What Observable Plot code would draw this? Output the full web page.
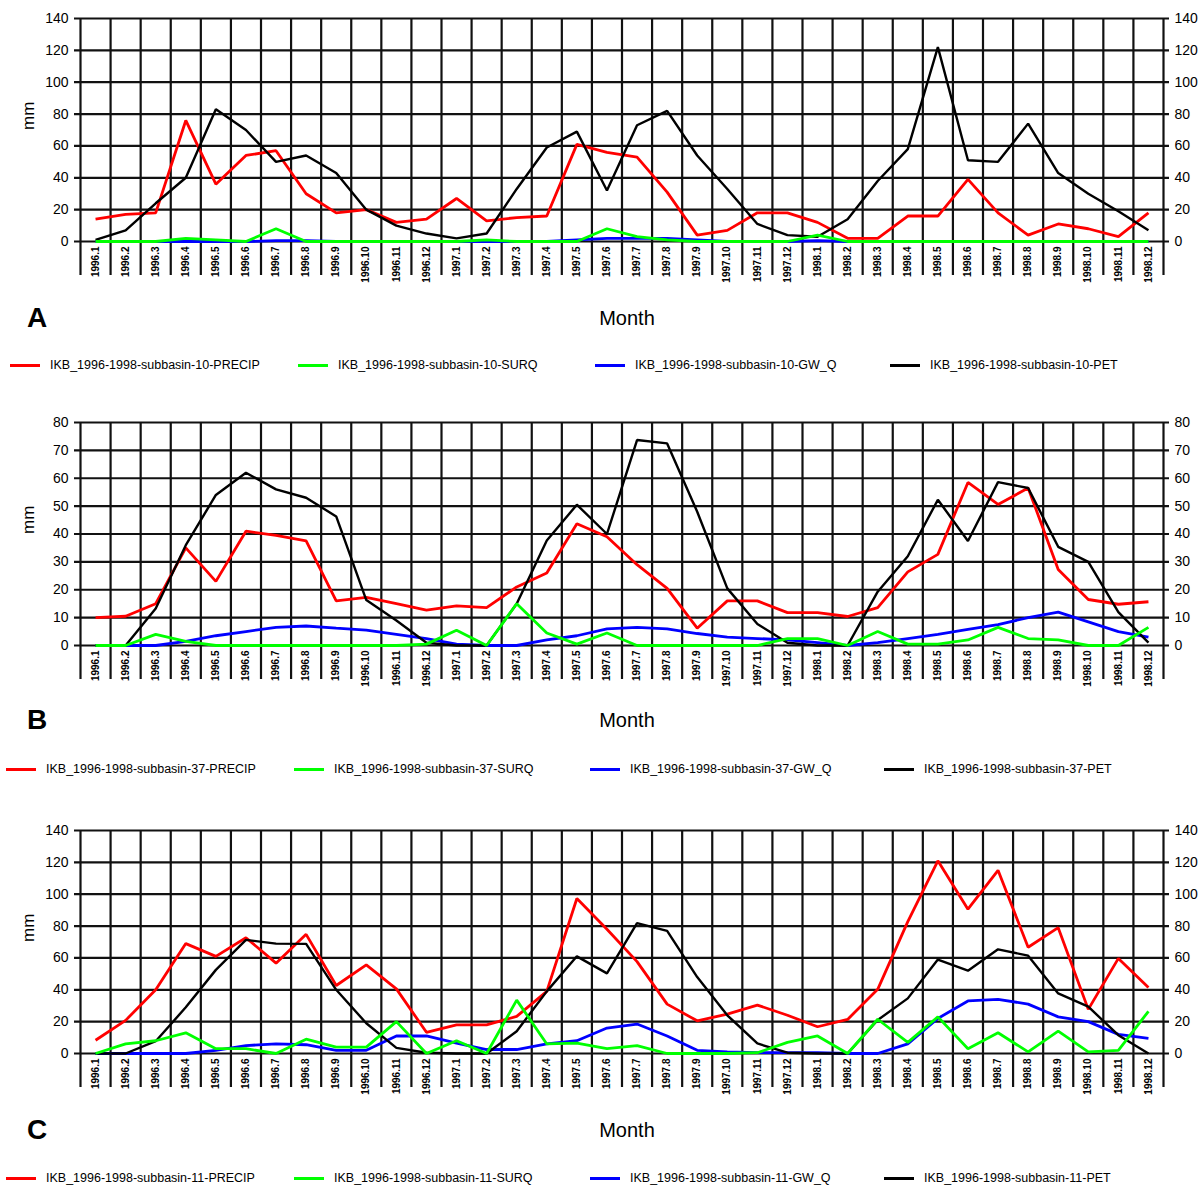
<!DOCTYPE html>
<html>
<head>
<meta charset="utf-8">
<script src="https://cdn.jsdelivr.net/npm/d3@7"></script>
<script src="https://cdn.jsdelivr.net/npm/@observablehq/plot@0.6"></script>
<style>
  body { margin: 0; background: #fff; font-family: "Liberation Sans", Arial, sans-serif; }
  #page { position: relative; width: 1203px; height: 1188px; overflow: hidden; background: #fff; }
  .panel { position: absolute; left: 0; }
  .letter { position: absolute; font-weight: bold; font-size: 28px; line-height: 28px; }
  .month { position: absolute; font-size: 20px; line-height: 20px; transform: translateX(-50%); }
  .item { position: absolute; font-size: 12.5px; line-height: 14px; white-space: nowrap; display: flex; align-items: center; color: #000; }
  .swatch { display: inline-block; width: 30px; height: 3px; margin-right: 10px; }
</style>
</head>
<body>
<div id="page"></div>
<script>
// Month categories (x axis)
const months = [
  "1996.1","1996.2","1996.3","1996.4","1996.5","1996.6","1996.7","1996.8","1996.9","1996.10","1996.11","1996.12",
  "1997.1","1997.2","1997.3","1997.4","1997.5","1997.6","1997.7","1997.8","1997.9","1997.10","1997.11","1997.12",
  "1998.1","1998.2","1998.3","1998.4","1998.5","1998.6","1998.7","1998.8","1998.9","1998.10","1998.11","1998.12"
];

// Subbasin 10 (mm)
const precip10 = [14,17,18,76,36,54,57,30,18,20,12,14, 27,13,15,16,61,56,53,31,4,7,18,18, 12,2,2,16,16,39,18,4,11,8,3,18];
const surq10   = [0,0,0,2,1,0,8,0,0,0,0,0, 0,1,0,0,0,8,3,1,0,0,0,0, 4,0,0,0,0,0,0,0,0,0,0,0];
const gwq10    = [0,0,0,0,0,0,0.5,0.5,0,0,0,0, 0,0,0,0,1,2,2,2,1,0,0,0, 0.5,0,0,0,0,0,0,0,0,0,0,0];
const pet10    = [1,7,24,40,83,70,50,54,43,20,10,5, 2,5,33,59,69,32,73,82,54,33,11,4, 3,14,38,58,122,51,50,74,43,30,19,7];

// Subbasin 37 (mm)
const precip37 = [10,10.5,15,35,23,41,39.5,37.5,16,17.3,15,12.7, 14.2,13.6,21,26,43.7,39,29,20.5,6.2,16,16,11.8, 11.8,10.4,13.6,26.4,32.7,58.5,50.6,56.5,27.3,16.5,14.8,15.7];
const surq37   = [0,0,4,1.5,0,0,0,0,0,0,0,0.5, 5.5,0,15,4.5,0.5,4.5,0,0,0,0,0,2.5, 2.5,0,5,0.5,0.5,2,6.5,2.5,2,0,0,6.5];
const gwq37    = [0,0,0,1.5,3.5,5,6.5,7,6.2,5.5,4,2.5, 0.5,0,0,2,3.5,6,6.5,6,4.3,3,2.5,2, 1,0,1,2.5,4,5.8,7.5,10,12,8.5,5,3];
const pet37    = [0,0,13.3,36,54,62,56,53,46.3,16.3,9,1, 0,0,15,37.7,50.5,40,73.7,72.5,48,20.5,7.7,1, 0,0,19.3,32,52.3,37.5,58.6,56.5,35.4,30,12,1];

// Subbasin 11 (mm)
const precip11 = [8.3,20.8,40,69,61,72.7,56.7,74.8,42.7,55.6,40.6,13.3, 18,18,23.3,39,97.3,78,57.7,31,20.5,24.7,30.4,24, 16.8,21.4,40.3,82.8,121,90.6,115,66.7,79,27.7,59.7,41.5];
const surq11   = [0,6,8,13,3,3,0,9,4,4,20,0, 8,0,33.5,6,6.5,3,5,0,0,0,0.5,7, 11,0,21.5,7,23,3,13,1,14,1,2,26.5];
const gwq11    = [0,0,0,0,2,5,6,5.5,2,2,11,11, 6.5,2.5,2.5,6,8,16,18.5,11,2,1,0.5,0.5, 0.5,0,0,6,22,33,34,31,23,20,12,9.5];
const pet11    = [0,0,7.7,29,52.5,71.3,69,68.8,40,19,3.5,0.5, 0,0,14,39,61,50.3,81.8,77,48,24,6.3,0.5, 0,0,21,34.6,59,52,65.4,61.4,37.7,29.4,11.5,0];

// y-axis tick values per panel
const ticks140 = [0,20,40,60,80,100,120,140];
const ticks80  = [0,10,20,30,40,50,60,70,80];

const seriesColors = { PRECIP: "#ff0000", SURQ: "#00ff00", GW_Q: "#0000ff", PET: "#000000" };

const panels = [
  { letter: "A", subbasin: 10, top: 0,   ticks: ticks140,
    series: { PRECIP: precip10, SURQ: surq10, GW_Q: gwq10, PET: pet10 },
    labelY: 318, legendY: 365, legendX: [10, 298, 595, 890] },
  { letter: "B", subbasin: 37, top: 404, ticks: ticks80,
    series: { PRECIP: precip37, SURQ: surq37, GW_Q: gwq37, PET: pet37 },
    labelY: 720, legendY: 769, legendX: [6, 294, 590, 884] },
  { letter: "C", subbasin: 11, top: 812, ticks: ticks140,
    series: { PRECIP: precip11, SURQ: surq11, GW_Q: gwq11, PET: pet11 },
    labelY: 1130, legendY: 1178, legendX: [6, 294, 590, 884] }
];

const page = document.getElementById("page");
const idx = months.map((m, i) => i);
const bounds = months.map((m, i) => i - 0.5).concat([months.length - 0.5]);
const drawOrder = ["PRECIP", "GW_Q", "PET", "SURQ"];
const legendOrder = ["PRECIP", "SURQ", "GW_Q", "PET"];

for (const p of panels) {
  const ymax = p.ticks[p.ticks.length - 1];
  const chart = Plot.plot({
    width: 1203,
    height: 291,
    marginTop: 18,
    marginBottom: 50,
    marginLeft: 80,
    marginRight: 40,
    style: { fontFamily: "'Liberation Sans Narrow', 'Liberation Sans', Arial, sans-serif", background: "transparent" },
    x: { type: "linear", domain: [-0.5, months.length - 0.5] },
    y: { domain: [0, ymax] },
    marks: [
      // horizontal grid, slightly extended past the frame on both sides
      Plot.ruleY(p.ticks, { stroke: "#111", strokeWidth: 2.2, insetLeft: -6, insetRight: -6 }),
      // vertical month separators, extended down through the label area
      Plot.ruleX(bounds, { stroke: "#111", strokeWidth: 2.2, insetBottom: -34 }),
      ...drawOrder.map(k => Plot.line(p.series[k], {
        x: (d, i) => i, y: d => d,
        stroke: seriesColors[k], strokeWidth: k === "PET" ? 2.4 : 2.8,
        strokeLinejoin: "miter", strokeLinecap: "butt"
      })),
      Plot.axisX(idx, {
        tickFormat: i => months[i], tickRotate: -90, tickSize: 0, tickPadding: 5,
        fontSize: 10, fontWeight: "bold", label: null
      }),
      Plot.axisY(p.ticks, { anchor: "left", tickSize: 0, tickPadding: 12, fontSize: 14, label: null }),
      Plot.axisY(p.ticks, { anchor: "right", tickSize: 0, tickPadding: 11, fontSize: 14, label: null }),
      Plot.text(["mm"], { frameAnchor: "left", dx: -52, rotate: -90, fontSize: 17,
        fontFamily: "'Liberation Sans', Arial, sans-serif" })
    ]
  });
  chart.classList.add("panel");
  chart.style.top = p.top + "px";
  page.appendChild(chart);

  const letter = document.createElement("div");
  letter.className = "letter";
  letter.textContent = p.letter;
  letter.style.left = "27px";
  letter.style.top = (p.labelY - 14) + "px";
  page.appendChild(letter);

  const month = document.createElement("div");
  month.className = "month";
  month.textContent = "Month";
  month.style.left = "627px";
  month.style.top = (p.labelY - 10) + "px";
  page.appendChild(month);

  legendOrder.forEach((k, j) => {
    const item = document.createElement("div");
    item.className = "item";
    item.style.left = p.legendX[j] + "px";
    item.style.top = (p.legendY - 7) + "px";
    const sw = document.createElement("span");
    sw.className = "swatch";
    sw.style.background = seriesColors[k];
    const tx = document.createElement("span");
    tx.textContent = `IKB_1996-1998-subbasin-${p.subbasin}-${k}`;
    item.appendChild(sw);
    item.appendChild(tx);
    page.appendChild(item);
  });
}
</script>
</body>
</html>
